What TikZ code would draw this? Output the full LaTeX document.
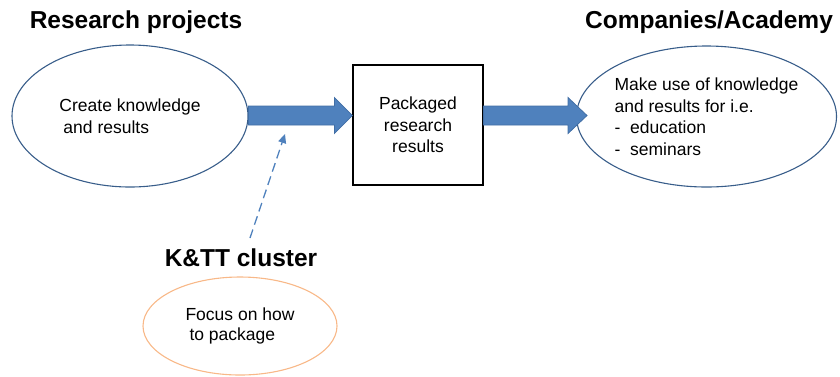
\documentclass[tikz,border=0pt]{standalone}
\usepackage{fontspec}
\setmainfont{Liberation Sans}
\usetikzlibrary{shapes.geometric,calc,arrows.meta}
\definecolor{ellline}{RGB}{56,93,138}
\definecolor{arrfill}{RGB}{79,129,189}
\definecolor{arrline}{RGB}{65,110,165}
\definecolor{orangeline}{RGB}{248,184,136}
\begin{document}
\begin{tikzpicture}[x=1pt,y=-1pt,
  title/.style={font=\fontsize{24.5}{28}\selectfont\bfseries, inner sep=0pt},
  body/.style={font=\fontsize{17.5}{21.5}\selectfont},
  bluell/.style={ellipse, draw=ellline, line width=1.1pt, inner sep=0pt, body},
  orangeell/.style={ellipse, draw=orangeline, line width=1.1pt, inner sep=0pt, body},
  boxstyle/.style={draw=black, line width=1.2pt, inner sep=0pt, body, align=center},
  blockarrow/.style={fill=arrfill, draw=arrline, line width=0.8pt, line join=miter},
  dasharrow/.style={draw=arrfill, line width=1.3pt, dash pattern=on 9pt off 5pt,
     -{Triangle[length=9pt,width=8pt]}}
]
\useasboundingbox (0,0) rectangle (840,376);

% titles
\node[title] (T1) at (136,22) {Research projects};
\node[title] (T2) at (709,22) {Companies/Academy};
\node[title] (T3) at (241,258) {K\&TT cluster};

% ellipses and box
\node[bluell, minimum width=236pt, minimum height=142pt, align=left] (L) at (130,116)
  {Create knowledge\\\hspace{4pt}and results};
\node[boxstyle, minimum width=130pt, minimum height=120pt] (B) at (418,125)
  {Packaged\\research\\results};
\node[bluell, minimum width=243pt, minimum height=141pt, align=left] (R) at (706.5,116.5)
  {Make use of knowledge\\and results for i.e.\\-\ \ education\\-\ \ seminars};
\node[orangeell, minimum width=194pt, minimum height=98pt, align=left,
  font=\fontsize{17.5}{20}\selectfont] (O) at (240,326)
  {Focus on how\\\hspace{4pt}to package};

% block arrow 1
\coordinate (a1s) at (L.east |- 0,115.5);
\coordinate (a1t) at (B.west |- 0,115.5);
\path[blockarrow] ($(a1s)+(0,-9.5)$) -- ($(a1t)+(-18,-9.5)$) -- ($(a1t)+(-18,-18)$)
  -- (a1t) -- ($(a1t)+(-18,18)$) -- ($(a1t)+(-18,9.5)$) -- ($(a1s)+(0,9.5)$) -- cycle;

% block arrow 2
\coordinate (a2s) at (B.east |- 0,115.5);
\coordinate (a2t) at (587,115.5);
\path[blockarrow] ($(a2s)+(0,-9.5)$) -- ($(a2t)+(-19,-9.5)$) -- ($(a2t)+(-19,-18)$)
  -- (a2t) -- ($(a2t)+(-19,18)$) -- ($(a2t)+(-19,9.5)$) -- ($(a2s)+(0,9.5)$) -- cycle;

% dashed arrow
\coordinate (ds) at (250,238);
\coordinate (dt) at (285,134);
\draw[dasharrow] (ds) -- (dt);
\end{tikzpicture}
\end{document}
